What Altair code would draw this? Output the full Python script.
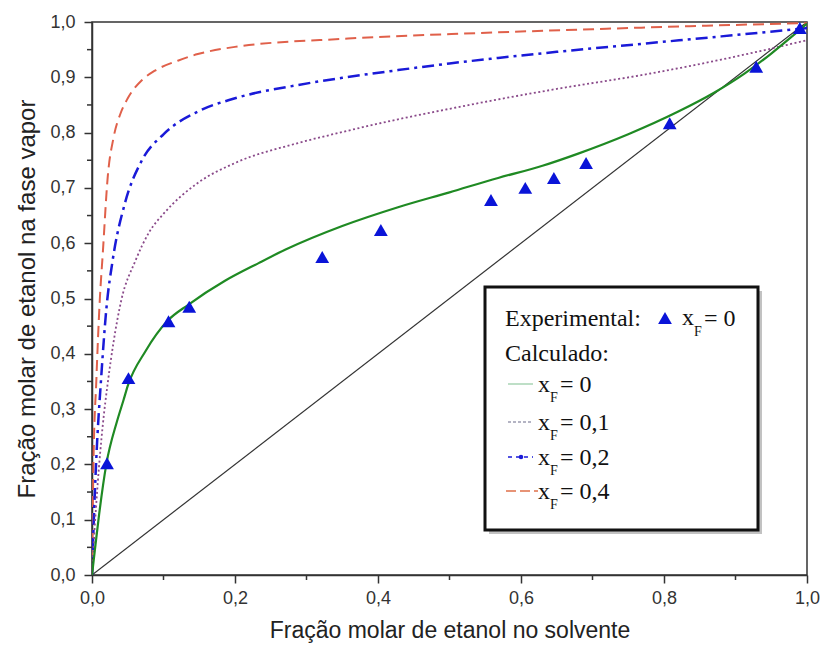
import altair as alt
import pandas as pd

# ---------------- data ----------------
exp_x = [0.021, 0.051, 0.107, 0.136, 0.322, 0.404, 0.558, 0.606, 0.646, 0.691, 0.808, 0.929, 0.990]
exp_y = [0.202, 0.356, 0.459, 0.485, 0.575, 0.624, 0.678, 0.700, 0.718, 0.745, 0.817, 0.919, 0.989]

g_x = [0, 0.004, 0.01, 0.02, 0.035, 0.044, 0.05, 0.075, 0.106, 0.135, 0.186, 0.233, 0.27, 0.35,
       0.428, 0.5, 0.568, 0.63, 0.68, 0.75, 0.82, 0.87, 0.913, 0.95, 0.98, 1.0]
g_y = [0, 0.045, 0.11, 0.2, 0.278, 0.316, 0.342, 0.405, 0.46, 0.489, 0.532, 0.564, 0.588, 0.631,
       0.665, 0.692, 0.718, 0.74, 0.762, 0.797, 0.838, 0.872, 0.907, 0.943, 0.975, 0.997]

p_x = [0, 0.003, 0.008, 0.015, 0.022, 0.03, 0.041, 0.06, 0.08, 0.102, 0.148, 0.2, 0.288, 0.35, 0.428,
       0.5, 0.568, 0.65, 0.773, 0.88, 1.0]
p_y = [0, 0.07, 0.166, 0.27, 0.347, 0.42, 0.497, 0.566, 0.62, 0.656, 0.709, 0.745, 0.781, 0.801, 0.824,
       0.843, 0.86, 0.879, 0.905, 0.932, 0.967]

b_x = [0, 0.002, 0.006, 0.013, 0.02, 0.029, 0.046, 0.069, 0.1, 0.148, 0.2, 0.288, 0.35, 0.428, 0.5,
       0.568, 0.65, 0.773, 0.88, 1.0]
b_y = [0, 0.08, 0.21, 0.36, 0.48, 0.57, 0.672, 0.748, 0.797, 0.838, 0.862, 0.886, 0.899, 0.913, 0.925,
       0.935, 0.946, 0.961, 0.974, 0.989]

r_x = [0, 0.002, 0.006, 0.011, 0.015, 0.022, 0.03, 0.04, 0.05, 0.07, 0.088, 0.12, 0.148, 0.2, 0.358,
       0.54, 0.7, 0.85, 1.0]
r_y = [0, 0.2, 0.35, 0.5, 0.58, 0.72, 0.79, 0.835, 0.862, 0.895, 0.912, 0.93, 0.942, 0.955, 0.97,
       0.98, 0.987, 0.993, 0.998]

diag_x = [0, 1]
diag_y = [0, 1]

x_major = [0, 0.2, 0.4, 0.6, 0.8, 1.0]
x_minor = [0.1, 0.3, 0.5, 0.7, 0.9]
y_major = [0, 0.1, 0.2, 0.3, 0.4, 0.5, 0.6, 0.7, 0.8, 0.9, 1.0]
y_minor = [0.05, 0.15, 0.25, 0.35, 0.45, 0.55, 0.65, 0.75, 0.85, 0.95]

# ---------------- scales / axes ----------------
xs = alt.Scale(domain=[0, 1], nice=False, zero=False)
ys = alt.Scale(domain=[0, 1], nice=False, zero=False)

lab = "replace(format(datum.value, '.1f'), '.', ',')"
x_axis = alt.Axis(values=x_major, labelExpr=lab, title="Fração molar de etanol no solvente",
                  grid=False, tickSize=8, labelPadding=6, titlePadding=12, domainWidth=1.5,
                  tickWidth=1.5, titleFontSize=23, labelFlush=False)
y_axis = alt.Axis(values=y_major, labelExpr=lab, title="Fração molar de etanol na fase vapor",
                  grid=False, tickSize=8, labelPadding=9, titlePadding=10, domainWidth=1.5,
                  tickWidth=1.5, titleFontSize=24, labelFlush=False)


def curve(xv, yv, color, width, dash=None, with_axes=False):
    df = pd.DataFrame({"x": xv, "y": yv})
    kw = dict(color=color, strokeWidth=width, interpolate="monotone", clip=True)
    if dash:
        kw["strokeDash"] = dash
    if with_axes:
        enc = dict(x=alt.X("x:Q", scale=xs, axis=x_axis), y=alt.Y("y:Q", scale=ys, axis=y_axis))
    else:
        enc = dict(x=alt.X("x:Q", scale=xs), y=alt.Y("y:Q", scale=ys))
    return alt.Chart(df).mark_line(**kw).encode(**enc)


diag = curve(diag_x, diag_y, "#333333", 1.2, with_axes=True)
red = curve(r_x, r_y, "#e0604a", 2, [11, 6])
blue = curve(b_x, b_y, "#1a1ad8", 2.5, [12, 5, 3, 5])
purple = curve(p_x, p_y, "#8a4a8a", 1.8, [2, 2.5])
green = curve(g_x, g_y, "#1f8a23", 2.2)

pts = alt.Chart(pd.DataFrame({"x": exp_x, "y": exp_y})).mark_point(
    shape="triangle-up", filled=True, color="#0a14d8", size=190, opacity=1
).encode(x=alt.X("x:Q", scale=xs), y=alt.Y("y:Q", scale=ys))

xminor = alt.Chart(pd.DataFrame({"x": x_minor})).mark_rule(color="#333333", strokeWidth=1.5).encode(
    x=alt.X("x:Q", scale=xs), y=alt.value(553), y2=alt.value(558))
yminor = alt.Chart(pd.DataFrame({"y": y_minor})).mark_rule(color="#333333", strokeWidth=1.5).encode(
    y=alt.Y("y:Q", scale=ys), x=alt.value(-5), x2=alt.value(0))

# ---------------- legend (page coords minus plot origin) ----------------
one = pd.DataFrame({"a": [0]})
OX, OY = 94, 22


def box(x1, y1, x2, y2, **kw):
    return alt.Chart(one).mark_rect(**kw).encode(
        x=alt.value(x1 - OX), x2=alt.value(x2 - OX), y=alt.value(y1 - OY), y2=alt.value(y2 - OY))


def txt(s, x, y, size=24, color="#111111", align="left"):
    return alt.Chart(one).mark_text(text=s, font="Liberation Serif", fontSize=size, color=color,
                                    align=align, baseline="alphabetic").encode(
        x=alt.value(x - OX), y=alt.value(y - OY))


def seg(x1, x2, y, color, width, dash=None):
    kw = dict(color=color, strokeWidth=width)
    if dash:
        kw["strokeDash"] = dash
    return alt.Chart(one).mark_rule(**kw).encode(
        x=alt.value(x1 - OX), x2=alt.value(x2 - OX), y=alt.value(y - OY))


legend = [
    box(491, 291, 764, 534, color="#9a9a9a", opacity=0.6),
    box(487, 287, 760, 530, fill="white", stroke="#111111", strokeWidth=3),
    txt("Experimental:", 507, 326),
    alt.Chart(one).mark_point(shape="triangle-up", filled=True, color="#0a14d8", size=190, opacity=1)
    .encode(x=alt.value(667 - OX), y=alt.value(318 - OY)),
    txt("x", 684, 325), txt("F", 696, 336, size=14), txt("= 0", 706, 326),
    txt("Calculado:", 507, 361),
]
rows = [
    (392, "= 0", "#a8d5b5", 1.5, None, 510, 535),
    (430, "= 0,1", "#6a6a8a", 1.2, [3, 2], 510, 535),
    (465, "= 0,2", "#1a1ad8", 1.5, [4, 4], 510, 535),
    (499, "= 0,4", "#e0704a", 1.5, [10, 4], 508, 540),
]
for base, s, col, w, dash, sx1, sx2 in rows:
    legend.append(seg(sx1, sx2, base - 8, col, w, dash))
    legend.append(txt("x", 540, base))
    legend.append(txt("F", 552, base + 10, size=14))
    legend.append(txt(s, 562, base))
legend.append(alt.Chart(one).mark_point(shape="circle", filled=True, color="#1a1ad8", size=20, opacity=1)
              .encode(x=alt.value(523 - OX), y=alt.value(457 - OY)))

chart = alt.layer(diag, red, blue, purple, green, pts, xminor, yminor, *legend).properties(
    width=715, height=553,
    autosize=alt.AutoSizeParams(type="none"),
    padding={"left": 84, "top": 14, "right": 13, "bottom": 80},
).configure_view(stroke="#333333", strokeWidth=1.5).configure_axis(
    labelFont="Liberation Sans", labelFontSize=18, labelColor="#333333",
    titleFont="Liberation Sans", titleFontWeight="normal", titleColor="#222222",
    domainColor="#333333", tickColor="#333333",
)

chart.save("out.html", embed_options={"renderer": "svg", "actions": False})
